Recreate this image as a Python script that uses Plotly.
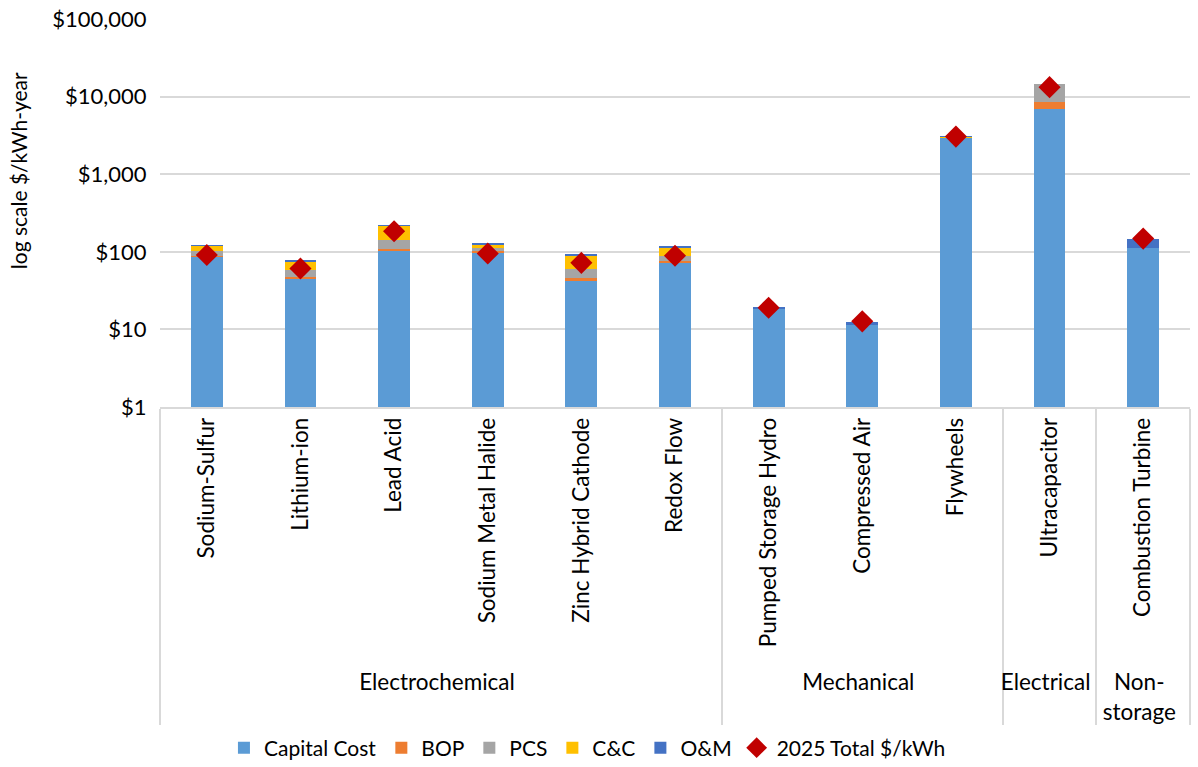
import plotly.graph_objects as go

groups = ["Electrochemical"] * 6 + ["Mechanical"] * 3 + ["Electrical"] + ["Non-<br>storage"]
techs = ["Sodium-Sulfur", "Lithium-ion", "Lead Acid", "Sodium Metal Halide",
         "Zinc Hybrid Cathode", "Redox Flow", "Pumped Storage Hydro",
         "Compressed Air", "Flywheels", "Ultracapacitor", "Combustion Turbine"]

capital = [86, 44, 101, 97, 42, 73, 18.4, 11.4, 2960, 6840, 111]
bop = [2, 3, 9, 4, 4, 3, 0, 0, 15, 1670, 0]
pcs = [14, 12, 34, 11, 14, 13, 0, 0, 40, 6140, 0]
cc = [17, 17, 71, 14, 29, 25, 0, 0, 15, 0, 0]
om = [1, 2, 2, 4, 2, 4, 0.8, 1.1, 30, 0, 37]
total_2025 = [91, 61, 184, 95, 72, 89, 19, 12.7, 3050, 13240, 148]

y_ticks = [1, 10, 100, 1000, 10000, 100000]
y_tick_labels = ["$1", "$10", "$100", "$1,000", "$10,000", "$100,000"]

series = [
    ("Capital Cost", capital, "#5B9BD5"),
    ("BOP", bop, "#ED7D31"),
    ("PCS", pcs, "#A5A5A5"),
    ("C&C", cc, "#FFC000"),
    ("O&M", om, "#4472C4"),
]

FONT = "Lato, Carlito, Calibri, sans-serif"
x = [groups, techs]

fig = go.Figure()
for name, vals, color in series:
    fig.add_trace(go.Bar(x=x, y=vals, name=name, marker=dict(color=color, line=dict(width=0))))

fig.add_trace(go.Scatter(
    x=x, y=total_2025, name="2025 Total $/kWh", mode="markers",
    marker=dict(symbol="diamond", size=17, color="#C00000"),
))

fig.update_layout(
    width=1198, height=767,
    barmode="stack", bargap=0.66,
    plot_bgcolor="white", paper_bgcolor="white",
    font=dict(family=FONT, size=21, color="#000000"),
    margin=dict(l=160, r=8, t=19, b=360, autoexpand=False),
    showlegend=True,
    legend=dict(orientation="h", x=0.415, xanchor="center", y=-0.879, yanchor="middle",
                font=dict(size=21), traceorder="normal", itemwidth=30),
)

fig.update_yaxes(
    type="log", range=[0, 5], tickvals=y_ticks, ticktext=y_tick_labels,
    showgrid=True, gridcolor="#D9D9D9", gridwidth=1.5,
    zeroline=False, showline=False, ticks="outside", ticklen=8, tickcolor="rgba(0,0,0,0)",
    tickfont=dict(size=22), automargin=False,
)

fig.update_xaxes(
    type="multicategory", range=[-0.5, len(techs) - 0.5], tickangle=-90,
    showline=True, linecolor="#D9D9D9", linewidth=1.5,
    showdividers=True, dividercolor="#D9D9D9", dividerwidth=1.5,
    ticks="", tickfont=dict(size=22.5), automargin=False,
)

fig.add_annotation(
    text="log scale $/kWh-year", xref="paper", yref="paper",
    x=-0.138, y=0.61, textangle=-90, showarrow=False,
    font=dict(size=21), xanchor="center", yanchor="middle",
)

fig.write_html("out.html", config={"displayModeBar": False},
               post_script="document.body.style.margin='0px';")
